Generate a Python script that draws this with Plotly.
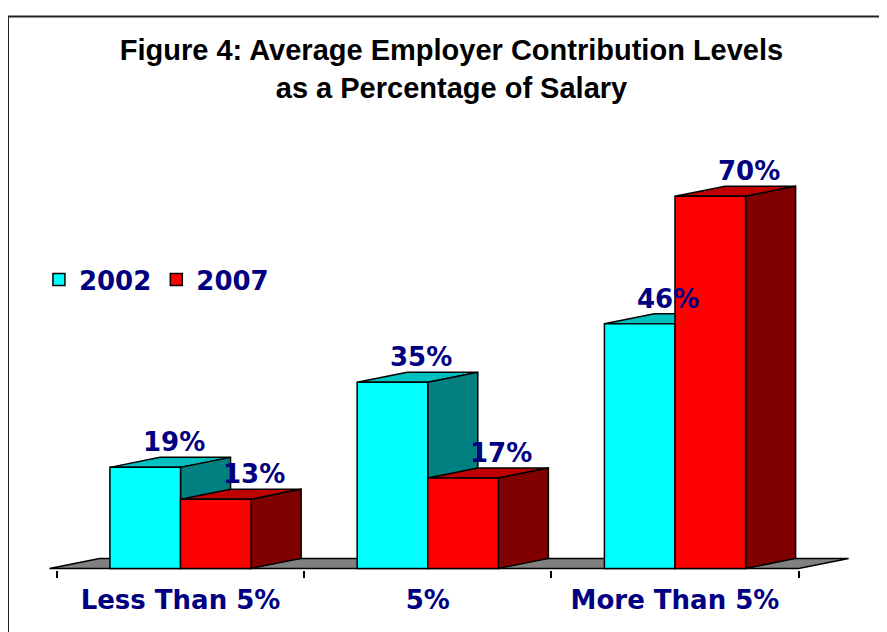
import plotly.graph_objects as go

categories = ["Less Than 5%", "5%", "More Than 5%"]
series_names = ["2002", "2007"]
values_2002 = [19, 35, 46]
values_2007 = [13, 17, 70]
labels_2002 = ["19%", "35%", "46%"]
labels_2007 = ["13%", "17%", "70%"]

# style
FRONT = ["#00FFFF", "#FF0000"]
TOP = ["#00C0C0", "#C00000"]
SIDE = ["#008080", "#800000"]
NAVY = "#000080"
LABEL_FONT = dict(family="Verdana, DejaVu Sans", size=26, color=NAVY, weight="bold")
BARGAP = 0.429
DX = 0.2024   # depth offset in category units
DY = 1.88     # depth offset in value units
W = (1 - BARGAP) / 2
LABEL_DX = [0.115, 0.155]   # label offset from bar centre, per series (category units)

x_pos = list(range(len(categories)))
fig = go.Figure()
for k, (name, vals) in enumerate(zip(series_names, [values_2002, values_2007])):
    fig.add_trace(go.Bar(
        x=x_pos, y=vals, name=name,
        marker=dict(color=FRONT[k], line=dict(color="black", width=1.5)),
        hoverinfo="skip",
    ))

shapes = []
# floor
fx0, fx1 = -0.53, 2.5
shapes.append(dict(type="path", xref="x", yref="y", layer="below",
                   path=f"M{fx0},0 L{fx0+DX},{DY} L{fx1+DX},{DY} L{fx1},0 Z",
                   fillcolor="#808080", line=dict(color="black", width=1.5)))
annotations = []
for i in x_pos:
    for k, (vals, labs) in enumerate([(values_2002, labels_2002), (values_2007, labels_2007)]):
        v = vals[i]
        x0 = i - W + k * W
        x1 = x0 + W
        # top face
        shapes.append(dict(type="path", xref="x", yref="y", layer="below",
                           path=f"M{x0},{v} L{x0+DX},{v+DY} L{x1+DX},{v+DY} L{x1},{v} Z",
                           fillcolor=TOP[k], line=dict(color="black", width=1.5)))
        # side face
        shapes.append(dict(type="path", xref="x", yref="y", layer="below",
                           path=f"M{x1},0 L{x1+DX},{DY} L{x1+DX},{v+DY} L{x1},{v} Z",
                           fillcolor=SIDE[k], line=dict(color="black", width=1.5)))
        annotations.append(dict(x=(x0 + x1) / 2 + LABEL_DX[k], y=v + DY, xref="x", yref="y",
                                text=labs[i], showarrow=False, yanchor="middle",
                                yshift=15, font=LABEL_FONT))

# outer frame
shapes.append(dict(type="rect", xref="paper", yref="paper", x0=-0.0484, y0=-0.3,
                   x1=1.2, y1=1.2965, line=dict(color="#222222", width=2),
                   fillcolor="rgba(0,0,0,0)", layer="above"))

fig.update_layout(
    width=887, height=632,
    margin=dict(l=39, r=42, t=135, b=70),
    paper_bgcolor="white", plot_bgcolor="white",
    barmode="group", bargap=BARGAP, bargroupgap=0,
    title=dict(text="Figure 4: Average Employer Contribution Levels<br>as a Percentage of Salary",
               x=0.5, xanchor="center", y=0.917, yanchor="top",
               font=dict(family="Tahoma, Liberation Sans, Arial", size=29, color="black", weight="bold")),
    xaxis=dict(range=[-0.54, 2.72], tickmode="array", tickvals=x_pos, ticktext=categories,
               ticks="", showgrid=False, zeroline=False, showline=False,
               tickfont=LABEL_FONT, ticklabelstandoff=12,
               minor=dict(tickmode="array", tickvals=[-0.5, 0.5, 1.5, 2.5], ticks="outside",
                          ticklen=7, tickwidth=1.5, tickcolor="black", showgrid=False)),
    yaxis=dict(range=[-0.3, 80], visible=False, showgrid=False, zeroline=False),
    legend=dict(orientation="h", x=-0.01, y=0.68, xanchor="left", yanchor="middle",
                font=LABEL_FONT, bgcolor="rgba(0,0,0,0)", itemwidth=30),
    shapes=shapes, annotations=annotations,
)
fig.write_html("out.html")
